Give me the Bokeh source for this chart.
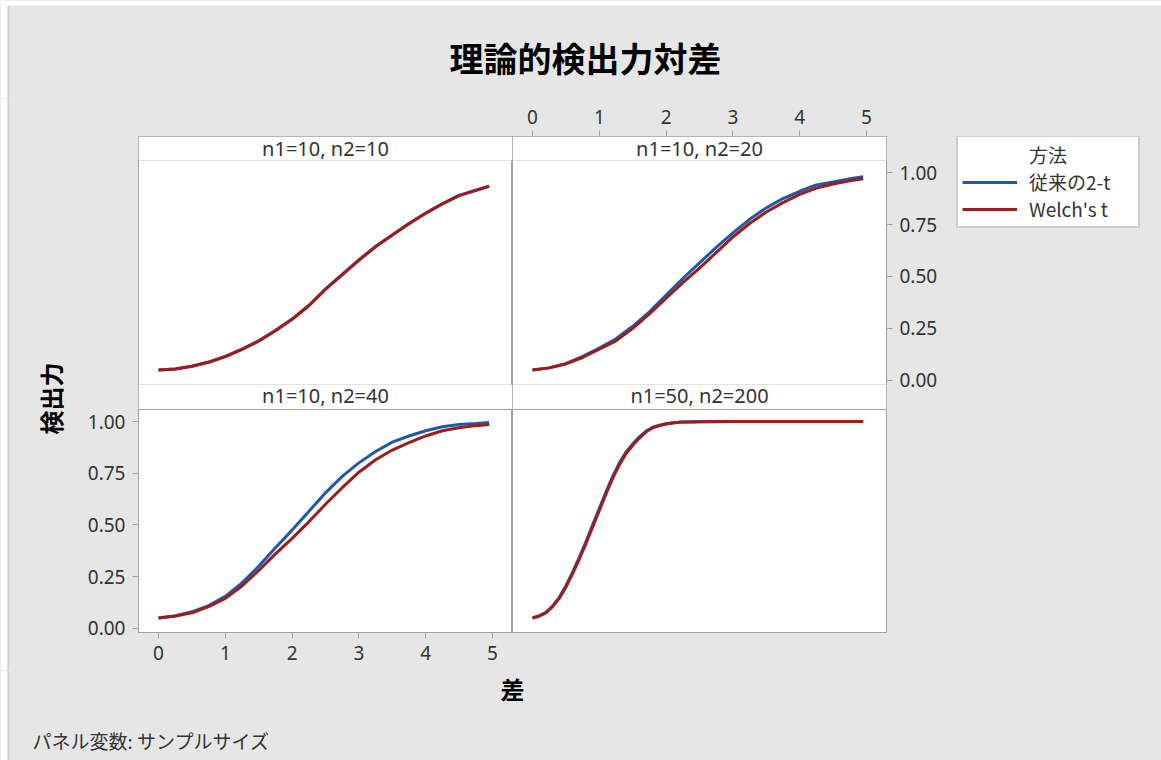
import math
from bokeh.plotting import figure
from bokeh.models import (Range1d, Label, BoxAnnotation, FixedTicker,
                          NumeralTickFormatter, Legend, LegendItem)
from bokeh.layouts import row, column
from bokeh.embed import file_html
from bokeh.resources import INLINE

# ---------------- data ----------------
title_text = "理論的検出力対差"
x_label = "差"
y_label = "検出力"
footnote = "パネル変数: サンプルサイズ"
legend_title = "方法"
method_names = ["従来の2-t", "Welch's t"]
panel_labels = ["n1=10, n2=10", "n1=10, n2=20", "n1=10, n2=40", "n1=50, n2=200"]

diff = [0.0, 0.25, 0.5, 0.75, 1.0, 1.25, 1.5, 1.75, 2.0, 2.25, 2.5,
        2.75, 3.0, 3.25, 3.5, 3.75, 4.0, 4.25, 4.5, 4.75, 4.95]

pooled_10_10 = [0.05, 0.055, 0.068, 0.088, 0.115, 0.15, 0.19, 0.24, 0.295, 0.36, 0.44,
                0.51, 0.58, 0.645, 0.70, 0.755, 0.805, 0.85, 0.89, 0.915, 0.935]
welch_10_10 = [0.05, 0.055, 0.068, 0.087, 0.114, 0.149, 0.189, 0.239, 0.294, 0.359, 0.438,
               0.508, 0.578, 0.643, 0.699, 0.754, 0.804, 0.849, 0.889, 0.914, 0.934]

pooled_10_20 = [0.05, 0.06, 0.08, 0.115, 0.155, 0.20, 0.26, 0.33, 0.41, 0.49, 0.565,
                0.64, 0.71, 0.775, 0.83, 0.875, 0.91, 0.94, 0.955, 0.97, 0.98]
welch_10_20 = [0.05, 0.06, 0.08, 0.11, 0.15, 0.19, 0.25, 0.32, 0.395, 0.47, 0.54,
               0.615, 0.69, 0.755, 0.81, 0.855, 0.895, 0.925, 0.945, 0.96, 0.97]

pooled_10_40 = [0.05, 0.06, 0.08, 0.11, 0.155, 0.22, 0.30, 0.39, 0.475, 0.565, 0.655,
                0.735, 0.80, 0.855, 0.90, 0.93, 0.955, 0.975, 0.985, 0.99, 0.995]
welch_10_40 = [0.05, 0.06, 0.075, 0.105, 0.145, 0.205, 0.28, 0.36, 0.435, 0.515, 0.60,
               0.68, 0.755, 0.815, 0.862, 0.898, 0.93, 0.955, 0.97, 0.98, 0.985]

diff_50_200 = [0.0, 0.1, 0.2, 0.3, 0.4, 0.5, 0.6, 0.7, 0.8, 0.9, 1.0, 1.1, 1.2, 1.3,
               1.4, 1.5, 1.6, 1.7, 1.8, 1.9, 2.0, 2.1, 2.2, 2.5, 3.0, 3.5, 4.0, 4.5, 4.95]
pooled_50_200 = [0.05, 0.06, 0.077, 0.108, 0.15, 0.206, 0.272, 0.343, 0.42, 0.50, 0.58,
                 0.66, 0.735, 0.80, 0.853, 0.892, 0.926, 0.954, 0.972, 0.982, 0.989,
                 0.994, 0.997, 0.999, 1.0, 1.0, 1.0, 1.0, 1.0]
welch_50_200 = [0.05, 0.06, 0.075, 0.105, 0.145, 0.20, 0.265, 0.335, 0.41, 0.49, 0.57,
                0.65, 0.725, 0.79, 0.845, 0.885, 0.92, 0.95, 0.97, 0.98, 0.988,
                0.993, 0.996, 0.999, 1.0, 1.0, 1.0, 1.0, 1.0]

x_ticks = [0, 1, 2, 3, 4, 5]
y_ticks = [0.0, 0.25, 0.5, 0.75, 1.0]

# ---------------- styling / geometry ----------------
BG = "#E6E6E6"
EDGE = "#A0A0A0"
TXT = "#333333"
BLUE = "#1F5AA6"
RED = "#A01B1B"
LATIN = "Noto Sans"
CJK = "Noto Sans CJK JP"
FS_TICK = "19px"
FS_STRIP = "20px"
FS_LEG = "19px"

X0, X1 = -0.3, 5.3
Y0, YPLOT = -0.02, 1.058          # plotted value window of every panel
PX_PER_UNIT = 224 / (YPLOT - Y0)
STRIP_TOP = 24                     # px, strip of the upper panels
STRIP_BOT = 25                     # px, strip of the lower panels
YEND = YPLOT + STRIP_TOP / PX_PER_UNIT
YSTART = Y0 - STRIP_BOT / PX_PER_UNIT   # upper panels also hold the strip of the lower ones

FRAME_W = 374
TOP_FRAME_H = 24 + 224 + 25        # 273
BOT_FRAME_H = 223
LEFT_W, LEFT_B = 75, 63
RIGHT_B = 275
TR_RIGHT_B = 70
LEG_W = RIGHT_B - TR_RIGHT_B
TOP_B, BOT_B = 38, 38
HEAD_H, FOOT_H = 98, 90
TOTAL_W = LEFT_W + LEFT_B + FRAME_W + FRAME_W + RIGHT_B  # 1161
TOP_ROW_H = TOP_B + TOP_FRAME_H    # 311
BOT_ROW_H = BOT_FRAME_H + BOT_B    # 261


def blank(w, h, edge=True):
    f = figure(width=w, height=h, x_range=Range1d(0, w), y_range=Range1d(0, h),
               output_backend="svg", toolbar_location=None,
               x_axis_location=None, y_axis_location=None, min_border=0)
    f.outline_line_color = None
    f.border_fill_color = BG
    f.background_fill_color = BG
    f.xgrid.visible = False
    f.ygrid.visible = False
    if edge:
        f.add_layout(BoxAnnotation(left=0, right=7, fill_color="white", fill_alpha=1.0, line_color=None))
        f.add_layout(BoxAnnotation(left=7, right=9, fill_color="#D2D2D2", fill_alpha=1.0, line_color=None))
    return f


def strip(p, bottom, top, text, nudge_px=0.0):
    p.add_layout(BoxAnnotation(bottom=bottom, top=top, left=X0, right=X1,
                               fill_color="white", fill_alpha=1.0,
                               line_color=EDGE, line_width=1))
    p.add_layout(Label(x=(X0 + X1) / 2, y=(bottom + top) / 2 + nudge_px / PX_PER_UNIT, text=text,
                       text_align="center", text_baseline="middle",
                       text_font=LATIN, text_font_size=FS_STRIP, text_color=TXT))


def panel(xs, yp, yw, w, h, ylo, yhi, mb, xloc, yloc):
    p = figure(width=w, height=h, x_range=Range1d(X0, X1), y_range=Range1d(ylo, yhi),
               output_backend="svg", toolbar_location=None,
               x_axis_location=xloc, y_axis_location=yloc, min_border=0)
    p.min_border_left, p.min_border_right, p.min_border_top, p.min_border_bottom = mb
    p.border_fill_color = BG
    p.background_fill_color = "white"
    p.outline_line_color = EDGE
    p.outline_line_width = 1
    p.xgrid.visible = False
    p.ygrid.visible = False
    for ax in p.xaxis:
        ax.ticker = FixedTicker(ticks=x_ticks)
    for ax in p.yaxis:
        ax.ticker = FixedTicker(ticks=y_ticks)
        ax.formatter = NumeralTickFormatter(format="0.00")
    for ax in p.axis:
        ax.axis_line_color = EDGE
        ax.major_tick_line_color = EDGE
        ax.minor_tick_line_color = None
        ax.major_tick_out = 6
        ax.major_tick_in = 0
        ax.major_label_text_font = LATIN
        ax.major_label_text_font_size = FS_TICK
        ax.major_label_text_color = TXT
        ax.major_label_standoff = 7
    p.line(xs, yp, line_color=BLUE, line_width=3)
    p.line(xs, yw, line_color=RED, line_width=3)
    return p


tl = panel(diff, pooled_10_10, welch_10_10, LEFT_B + FRAME_W, TOP_ROW_H, YSTART, YEND,
           (LEFT_B, 0, TOP_B, 0), None, None)
strip(tl, YPLOT, YEND, panel_labels[0])
strip(tl, YSTART, Y0, panel_labels[2], nudge_px=1.5)

tr = panel(diff, pooled_10_20, welch_10_20, FRAME_W + TR_RIGHT_B, TOP_ROW_H, YSTART, YEND,
           (0, TR_RIGHT_B, TOP_B, 0), "above", "right")
strip(tr, YPLOT, YEND, panel_labels[1])
strip(tr, YSTART, Y0, panel_labels[3], nudge_px=1.5)

bl = panel(diff, pooled_10_40, welch_10_40, LEFT_B + FRAME_W, BOT_ROW_H, Y0, YPLOT,
           (LEFT_B, 0, 0, BOT_B), "below", "left")
br = panel(diff_50_200, pooled_50_200, welch_50_200, FRAME_W + RIGHT_B, BOT_ROW_H, Y0, YPLOT,
           (0, RIGHT_B, 0, BOT_B), None, None)

# legend area; its ranges keep the series out of view so only the legend shows
legfig = figure(width=LEG_W, height=TOP_ROW_H, x_range=Range1d(100, 200), y_range=Range1d(100, 200),
                output_backend="svg", toolbar_location=None,
                x_axis_location=None, y_axis_location=None, min_border=0)
legfig.min_border_top = TOP_B
legfig.outline_line_color = None
legfig.border_fill_color = BG
legfig.background_fill_color = BG
legfig.xgrid.visible = False
legfig.ygrid.visible = False
g0 = legfig.line(diff, pooled_10_20, line_color="white", line_alpha=0, line_width=3)
g1 = legfig.line(diff, pooled_10_20, line_color=BLUE, line_width=3)
g2 = legfig.line(diff, welch_10_20, line_color=RED, line_width=3)
lg = Legend(items=[LegendItem(label=legend_title, renderers=[g0]),
                   LegendItem(label=method_names[0], renderers=[g1]),
                   LegendItem(label=method_names[1], renderers=[g2])],
            location=(0, TOP_FRAME_H - (228 - 136)))
lg.border_line_color = EDGE
lg.border_line_width = 2
lg.background_fill_color = "white"
lg.background_fill_alpha = 1.0
lg.label_text_font = CJK
lg.label_text_font_size = FS_LEG
lg.label_text_color = TXT
lg.glyph_width = 55
lg.glyph_height = 20
lg.label_height = 20
lg.label_width = 105
lg.label_standoff = 12
lg.padding = 4
lg.spacing = 0
lg.margin = 0
legfig.add_layout(lg, "center")

header = blank(TOTAL_W, HEAD_H)
header.add_layout(BoxAnnotation(bottom=HEAD_H - 5, top=HEAD_H, fill_color="white",
                                fill_alpha=1.0, line_color=None))
header.add_layout(Label(x=585, y=41, text=title_text, text_align="center", text_baseline="middle",
                        text_font=CJK, text_font_size="34px", text_font_style="bold",
                        text_color="black"))

left = blank(LEFT_W, TOP_ROW_H + BOT_ROW_H)
left.add_layout(Label(x=50, y=272, text=y_label, angle=math.pi / 2, text_align="center",
                      text_baseline="middle", text_font=CJK, text_font_size="24px",
                      text_font_style="bold", text_color="black"))

footer = blank(TOTAL_W, FOOT_H)
footer.add_layout(Label(x=512, y=72, text=x_label, text_align="center", text_baseline="middle",
                        text_font=CJK, text_font_size="24px", text_font_style="bold",
                        text_color="black"))
footer.add_layout(Label(x=32, y=20, text=footnote, text_align="left", text_baseline="middle",
                        text_font=CJK, text_font_size="19px", text_color=TXT))

st = {"background-color": BG}
layout = column(header,
                row(left,
                    column(row(tl, tr, legfig, styles=st), row(bl, br, styles=st), styles=st),
                    styles=st),
                footer, styles=st)

open("out.html", "w").write(file_html(layout, INLINE))
